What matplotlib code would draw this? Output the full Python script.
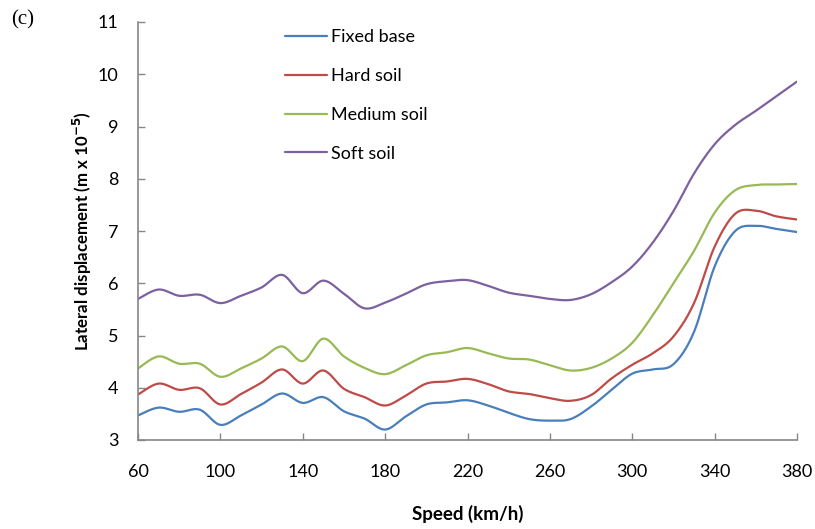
import numpy as np
import matplotlib
matplotlib.use("Agg")
import matplotlib.pyplot as plt

speed = list(range(60, 381, 10))
fixed_base = [3.47, 3.62, 3.54, 3.58, 3.29, 3.47, 3.68, 3.89, 3.71, 3.82, 3.55, 3.41, 3.20,
              3.45, 3.68, 3.72, 3.76, 3.66, 3.52, 3.40, 3.37, 3.40, 3.64, 3.96, 4.27, 4.35,
              4.45, 5.07, 6.32, 7.00, 7.10, 7.04, 6.98]
hard_soil = [3.87, 4.08, 3.96, 3.99, 3.68, 3.88, 4.10, 4.35, 4.08, 4.33, 3.98, 3.82, 3.66,
             3.85, 4.08, 4.12, 4.17, 4.07, 3.93, 3.88, 3.80, 3.75, 3.86, 4.18, 4.44, 4.66,
             4.98, 5.62, 6.70, 7.33, 7.39, 7.28, 7.22]
medium_soil = [4.37, 4.60, 4.46, 4.46, 4.21, 4.37, 4.56, 4.79, 4.51, 4.94, 4.60, 4.38, 4.26,
               4.43, 4.62, 4.68, 4.76, 4.66, 4.56, 4.54, 4.43, 4.33, 4.38, 4.56, 4.86, 5.39,
               6.00, 6.62, 7.35, 7.78, 7.88, 7.89, 7.90]
soft_soil = [5.70, 5.88, 5.76, 5.78, 5.62, 5.76, 5.92, 6.16, 5.81, 6.05, 5.80, 5.52, 5.63,
             5.80, 5.98, 6.04, 6.06, 5.95, 5.82, 5.76, 5.70, 5.68, 5.79, 6.02, 6.32, 6.78,
             7.38, 8.10, 8.66, 9.03, 9.30, 9.58, 9.86]

series_names = ["Fixed base", "Hard soil", "Medium soil", "Soft soil"]
series_vals = [fixed_base, hard_soil, medium_soil, soft_soil]
colors = ["#4A7EBB", "#BE4B48", "#98B954", "#7D60A0"]

x_ticks = list(range(60, 381, 40))
y_ticks = list(range(3, 12))


def smooth(xs, ys, n=20):
    """Catmull-Rom (Excel-like) smoothing through the data points."""
    xs = np.asarray(xs, float)
    ys = np.asarray(ys, float)
    P = np.column_stack([xs, ys])
    P = np.vstack([P[0], P, P[-1]])
    out = []
    t = np.linspace(0, 1, n, endpoint=False)
    for i in range(1, len(P) - 2):
        p0, p1, p2, p3 = P[i - 1], P[i], P[i + 1], P[i + 2]
        c1 = p1 + (p2 - p0) / 6.0
        c2 = p2 - (p3 - p1) / 6.0
        tt = t[:, None]
        seg = ((1 - tt) ** 3) * p1 + 3 * ((1 - tt) ** 2) * tt * c1 + 3 * (1 - tt) * tt ** 2 * c2 + tt ** 3 * p2
        out.append(seg)
    out.append(P[-2][None, :])
    out = np.vstack(out)
    return out[:, 0], out[:, 1]


plt.rcParams['font.family'] = ['Lato', 'DejaVu Sans']

fig = plt.figure(figsize=(8.15, 5.29), dpi=100)
ax = fig.add_axes([138 / 815, 89 / 529, (797 - 138) / 815, (440 - 22) / 529])

for name, vals, c in zip(series_names, series_vals, colors):
    sx, sy = smooth(speed, vals)
    ax.plot(sx, sy, color=c, lw=1.6, label=name, solid_capstyle='round')

ax.set_xlim(60, 380)
ax.set_ylim(3, 11)
ax.set_xticks(x_ticks)
ax.set_yticks(y_ticks)
ax.tick_params(direction='in', length=5, width=1, color='#868686',
               labelsize=13, pad=14)
ax.tick_params(axis='x', pad=17)
for s in ['top', 'right']:
    ax.spines[s].set_visible(False)
for s in ['left', 'bottom']:
    ax.spines[s].set_color('#868686')
    ax.spines[s].set_linewidth(1.2)

ax.set_xlabel("Speed (km/h)", fontsize=13.5, fontweight='bold', labelpad=18)
ax.set_ylabel("Lateral displacement (m x 10$^{\\mathbf{-5}}$)", fontsize=12.2,
              fontweight='bold', labelpad=3)

leg = ax.legend(loc='upper left', bbox_to_anchor=(285 / 815, 1 - 29 / 529),
                bbox_transform=fig.transFigure, frameon=False, fontsize=13,
                handlelength=2.3, handletextpad=0.25, labelspacing=1.27,
                borderaxespad=0, borderpad=0)

fig.text(11 / 815, 1 - 20 / 529, "(c)", family='Liberation Serif', fontsize=15,
         va='center', ha='left')

fig.savefig("out.png", dpi=100)
